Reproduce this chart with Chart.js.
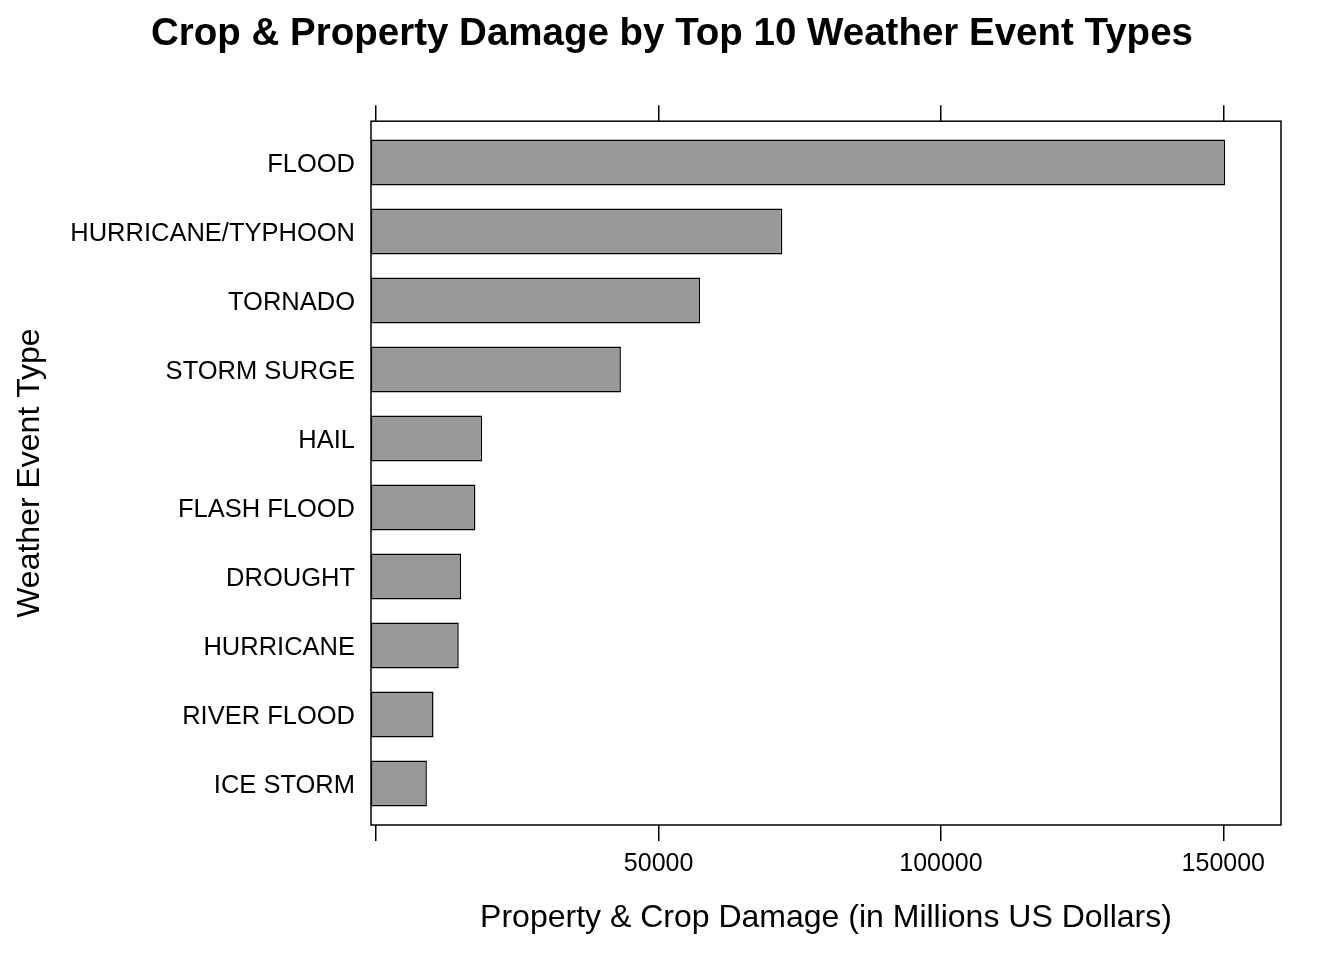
<!DOCTYPE html>
<html>
<head>
<meta charset="utf-8">
<script src="https://cdn.jsdelivr.net/npm/chart.js@4.4.1/dist/chart.umd.min.js"></script>
<style>
  html, body { margin: 0; padding: 0; background: #fff; }
  #wrap { width: 1344px; height: 960px; }
</style>
</head>
<body>
<div id="wrap"><canvas id="damage" width="1344" height="960"></canvas></div>
<script>
// top to bottom, as in the plot
var events = ["FLOOD", "HURRICANE/TYPHOON", "TORNADO", "STORM SURGE", "HAIL",
              "FLASH FLOOD", "DROUGHT", "HURRICANE", "RIVER FLOOD", "ICE STORM"];
var damage = [150320, 71914, 57352, 43324, 18761, 17562, 15019, 14610, 10148, 8967];

var xTicks = [0, 50000, 100000, 150000];
var xTickLabels = ["", "50000", "100000", "150000"];
var xMin = -927, xMax = 160215;

var FONT = "'Liberation Sans', Arial, Helvetica, sans-serif";
var n = events.length;

var points = damage.map(function (v, i) { return { x: v, y: n - i }; });

function setTicks(axis) {
  axis.ticks = xTicks.map(function (v) { return { value: v }; });
}

var frame = {
  id: 'frame',
  afterDatasetsDraw: function (chart) {
    var a = chart.chartArea, ctx = chart.ctx;
    ctx.save();
    ctx.strokeStyle = '#000';
    ctx.lineWidth = 1.5;
    ctx.strokeRect(a.left, a.top, a.right - a.left, a.bottom - a.top);
    ctx.restore();
  }
};

var ctx = document.getElementById("damage").getContext('2d');
var myChart = new Chart(ctx, {
  type: 'bar',
  data: {
    datasets: [{
      data: points,
      base: xMin,
      backgroundColor: '#999999',
      borderColor: '#000000',
      borderWidth: 1.5,
      borderSkipped: false,
      barPercentage: 2 / 3,
      categoryPercentage: 1
    }]
  },
  options: {
    indexAxis: 'y',
    responsive: false,
    animation: false,
    devicePixelRatio: 1,
    layout: { padding: 0 },
    plugins: {
      legend: { display: false },
      tooltip: { enabled: false },
      title: {
        display: true,
        text: 'Crop & Property Damage by Top 10 Weather Event Types',
        color: '#000',
        font: { family: FONT, size: 38.5, weight: 'bold' },
        padding: { top: 11, bottom: 48 }
      }
    },
    scales: {
      x: {
        type: 'linear',
        position: 'bottom',
        min: xMin,
        max: xMax,
        afterBuildTicks: setTicks,
        afterFit: function (s) { s.height = 135; },
        grid: { drawOnChartArea: false, drawTicks: true, tickLength: 16, tickColor: '#000', lineWidth: 1.5 },
        border: { display: false },
        ticks: {
          color: '#000',
          padding: 8,
          maxRotation: 0,
          font: { family: FONT, size: 25 },
          callback: function (v) { return xTickLabels[xTicks.indexOf(v)]; }
        },
        title: {
          display: true,
          text: 'Property & Crop Damage (in Millions US Dollars)',
          color: '#000',
          font: { family: FONT, size: 32 },
          padding: { top: 0, bottom: 23 }
        }
      },
      xTop: {
        type: 'linear',
        position: 'top',
        min: xMin,
        max: xMax,
        afterBuildTicks: setTicks,
        afterFit: function (s) { s.height = 16; },
        grid: { drawOnChartArea: false, drawTicks: true, tickLength: 16, tickColor: '#000', lineWidth: 1.5 },
        border: { display: false },
        ticks: { display: false }
      },
      y: {
        type: 'linear',
        position: 'left',
        offset: false,
        min: 0.4,
        max: 10.6,
        afterBuildTicks: function (axis) {
          axis.ticks = events.map(function (e, i) { return { value: n - i }; });
        },
        afterFit: function (s) { s.width = 371; },
        grid: { display: false, drawTicks: false, offset: false },
        border: { display: false },
        ticks: {
          color: '#000',
          padding: 16,
          labelOffset: 2,
          font: { family: FONT, size: 25.5 },
          callback: function (v) { return events[n - v]; }
        },
        title: {
          display: true,
          text: 'Weather Event Type',
          color: '#000',
          font: { family: FONT, size: 32 },
          padding: { top: 11, bottom: 0 }
        }
      },
      yRight: {
        type: 'linear',
        position: 'right',
        min: 0.4,
        max: 10.6,
        afterFit: function (s) { s.width = 63; },
        grid: { display: false },
        border: { display: false },
        ticks: { display: false }
      }
    }
  },
  plugins: [frame]
});
</script>
</body>
</html>
